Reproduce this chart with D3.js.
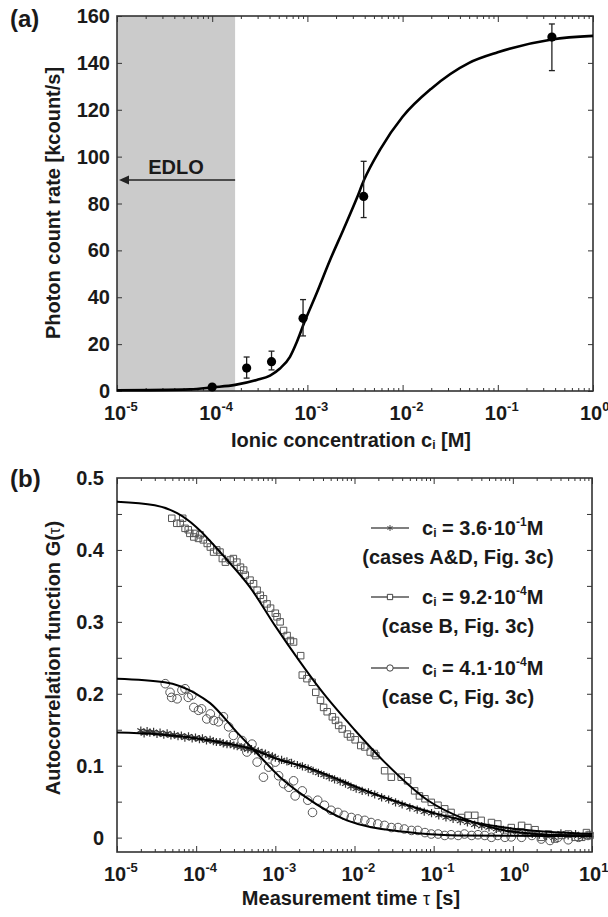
<!DOCTYPE html>
<html>
<head>
<meta charset="utf-8">
<script src="https://cdn.jsdelivr.net/npm/d3@7"></script>
<style>
body { margin: 0; background: #fff; }
text { font-family: "Liberation Sans", Arial, sans-serif; font-weight: bold; fill: #1a1a1a; }
</style>
</head>
<body>
<div id="canvas"></div>
<script>

// ---- panel (a): photon count rate vs ionic concentration ----
var concA = [1.0e-4, 2.3e-4, 4.2e-4, 9.0e-4, 3.9e-3, 0.37];
var rateA = [1.7, 9.8, 12.5, 31, 83, 151];
var errLoA = [null, 5.5, 9, 23.5, 74, 136.7];
var errHiA = [null, 14.5, 17, 39, 98, 156.6];

var fitConcA = [1e-5, 5.85e-5, 1.02e-4, 1.74e-4, 2.93e-4, 4.05e-4, 5.15e-4, 6.56e-4, 7.72e-4, 9.27e-4,
    1.25e-3, 1.73e-3, 2.38e-3, 3.3e-3, 3.93e-3, 5.8e-3, 1e-2, 2e-2, 5e-2, 0.1, 0.37, 1];
var fitRateA = [0.3, 0.7, 1.6, 2.6, 4.7, 6.6, 9.6, 14.6, 20.8, 29.2,
    41.7, 55.9, 68.7, 82.2, 90, 103, 117, 129, 140, 144.5, 150, 151.5];

var edloLimit = 1.74e-4;
var edloLevel = 90;
var yTicksA = [0, 20, 40, 60, 80, 100, 120, 140, 160];

// ---- panel (b): autocorrelation curves ----
// case A&D, ci = 3.6e-1 M (stars)
var tauAD = [2.0e-5, 2.2e-5, 2.4e-5, 2.6e-5, 2.9e-5, 3.2e-5, 3.5e-5, 3.9e-5, 4.3e-5, 4.8e-5, 5.3e-5, 5.9e-5,
    6.5e-5, 7.2e-5, 8.0e-5, 8.9e-5, 9.8e-5, 1.1e-4, 1.2e-4, 1.35e-4, 1.5e-4, 1.65e-4, 1.8e-4, 2.0e-4,
    2.2e-4, 2.45e-4, 2.7e-4, 3.0e-4, 3.3e-4, 3.7e-4, 4.1e-4, 4.5e-4, 5.0e-4, 5.5e-4, 6.1e-4, 6.8e-4,
    7.5e-4, 8.3e-4, 9.2e-4, 1.0e-3, 1.2e-3, 1.4e-3, 1.6e-3, 1.9e-3, 2.2e-3, 2.6e-3, 3.0e-3, 3.5e-3,
    4.1e-3, 4.8e-3, 5.6e-3, 6.6e-3, 7.7e-3, 9.0e-3, 1.05e-2, 1.25e-2, 1.5e-2, 1.8e-2, 2.2e-2, 2.7e-2,
    3.3e-2, 4.0e-2, 5.0e-2, 6.2e-2, 7.6e-2, 9.4e-2, 0.116, 0.143, 0.176, 0.217, 0.267, 0.329, 0.405,
    0.5, 0.62, 0.76, 0.94, 1.16, 1.43, 1.76, 2.17, 2.67, 3.29, 4.05, 5.0, 6.2, 7.6, 9.4];
var gAD = [0.149, 0.145, 0.148, 0.146, 0.147, 0.144, 0.146, 0.143, 0.145, 0.142, 0.143, 0.141,
    0.142, 0.139, 0.141, 0.138, 0.139, 0.137, 0.138, 0.135, 0.136, 0.134, 0.133, 0.133,
    0.131, 0.130, 0.130, 0.128, 0.127, 0.126, 0.125, 0.123, 0.123, 0.121, 0.120, 0.118,
    0.117, 0.114, 0.113, 0.111, 0.108, 0.106, 0.104, 0.101, 0.099, 0.096, 0.093, 0.090,
    0.087, 0.084, 0.081, 0.078, 0.075, 0.071, 0.068, 0.065, 0.063, 0.060, 0.056, 0.053,
    0.049, 0.046, 0.042, 0.039, 0.036, 0.034, 0.031, 0.028, 0.026, 0.023, 0.021, 0.018, 0.016,
    0.014, 0.012, 0.011, 0.009, 0.008, 0.006, 0.005, 0.004, 0.002, 0.000, 0.006, 0.003, 0.005, 0.001, 0.004];

// case B, ci = 9.2e-4 M (squares)
var tauB = [4.92e-5, 5.69e-5, 6.76e-5, 6.31e-5, 7.24e-5, 7.94e-5, 8.32e-5, 9.77e-5, 9.33e-5, 1.12e-4,
    1.07e-4, 1.23e-4, 1.38e-4, 1.51e-4, 1.82e-4, 1.66e-4, 2.0e-4, 2.14e-4, 2.34e-4, 2.69e-4, 2.95e-4,
    3.27e-4, 3.63e-4, 3.98e-4, 4.17e-4, 4.79e-4, 5.31e-4, 5.89e-4, 6.46e-4, 7.08e-4, 7.85e-4, 8.71e-4,
    1.0e-3, 1.05e-3, 1.15e-3, 1.27e-3, 1.41e-3, 1.55e-3, 1.70e-3, 2.09e-3, 2.19e-3, 2.51e-3, 2.92e-3,
    3.24e-3, 3.72e-3, 4.07e-3, 4.52e-3, 5.25e-3, 5.75e-3, 6.31e-3, 7.0e-3, 8.13e-3, 8.91e-3, 1.02e-2,
    1.2e-2, 1.35e-2, 1.58e-2, 1.78e-2, 1.86e-2, 2.4e-2, 2.92e-2, 3.89e-2, 4.68e-2, 5.75e-2, 6.61e-2,
    7.76e-2, 9.33e-2, 0.1135, 0.138, 0.166, 0.224, 0.272, 0.331, 0.398, 0.537, 0.646, 0.955, 1.29,
    1.55, 1.91, 2.29, 2.82, 3.39, 4.17, 5.01, 6.1, 7.41, 8.51, 9.44];
var gB = [0.444, 0.437, 0.444, 0.437, 0.430, 0.428, 0.423, 0.423, 0.418, 0.421,
    0.416, 0.414, 0.409, 0.404, 0.400, 0.397, 0.397, 0.388, 0.383, 0.386, 0.388,
    0.383, 0.376, 0.372, 0.365, 0.358, 0.353, 0.344, 0.337, 0.332, 0.325, 0.319,
    0.312, 0.307, 0.300, 0.288, 0.281, 0.274, 0.272, 0.253, 0.226, 0.221, 0.216,
    0.202, 0.191, 0.181, 0.175, 0.168, 0.163, 0.156, 0.151, 0.144, 0.140, 0.136,
    0.128, 0.126, 0.119, 0.117, 0.114, 0.093, 0.084, 0.084, 0.079, 0.065, 0.058,
    0.054, 0.049, 0.045, 0.040, 0.035, 0.028, 0.031, 0.031, 0.024, 0.021, 0.019, 0.014, 0.017,
    0.014, 0.011, 0.0004, 0.005, -0.002, 0.003, 0.005, 0.0004, 0.0004, 0.007, 0.003];

// case C, ci = 4.1e-4 M (circles)
var tauC = [4.07e-5, 4.68e-5, 4.9e-5, 5.75e-5, 6.61e-5, 7.24e-5, 7.94e-5, 8.81e-5, 9.33e-5, 1.07e-4,
    1.17e-4, 1.36e-4, 1.51e-4, 1.66e-4, 1.91e-4, 2.21e-4, 2.57e-4, 2.95e-4, 3.8e-4, 4.37e-4, 5.07e-4,
    5.89e-4, 7.08e-4, 8.22e-4, 1.0e-3, 1.1e-3, 1.27e-3, 1.48e-3, 1.7e-3, 1.78e-3, 2.19e-3, 2.57e-3,
    2.95e-3, 3.43e-3, 4.17e-3, 5.07e-3, 6.17e-3, 7.41e-3, 9.12e-3, 1.1e-2, 1.35e-2, 1.62e-2, 1.97e-2,
    2.4e-2, 2.92e-2, 3.55e-2, 4.27e-2, 5.25e-2, 6.31e-2, 7.76e-2, 9.33e-2, 0.114, 0.138, 0.166, 0.204,
    0.245, 0.302, 0.363, 0.442, 0.537, 0.646, 0.794, 0.955, 1.29, 1.74, 2.29, 2.95, 3.72, 5.01, 6.76, 8.91];
var gC = [0.214, 0.202, 0.195, 0.193, 0.205, 0.207, 0.195, 0.198, 0.181, 0.177,
    0.179, 0.165, 0.172, 0.163, 0.161, 0.168, 0.154, 0.142, 0.135, 0.119, 0.130,
    0.105, 0.084, 0.098, 0.105, 0.086, 0.075, 0.070, 0.079, 0.058, 0.065, 0.052,
    0.035, 0.052, 0.045, 0.038, 0.035, 0.031, 0.028, 0.026, 0.024, 0.021, 0.019,
    0.017, 0.014, 0.014, 0.012, 0.010, 0.010, 0.007, 0.005, 0.005, 0.003, 0.004, 0.003,
    0.005, 0.003, 0.004, 0.003, 0.0004, 0.003, 0.0004, 0.001, 0.0004, 0.003, -0.002, -0.004, 0.0004, -0.003, 0.0004, 0.003];

// fitted curves
var fitTauAD = [1e-5, 3e-5, 1.5e-4, 4.8e-4, 1.15e-3, 2.3e-3, 1.66e-2, 0.11, 0.79, 10];
var fitAD = [0.146, 0.144, 0.135, 0.124, 0.108, 0.099, 0.062, 0.033, 0.014, 0.005];
var fitTauB = [1e-5, 3e-5, 5.75e-5, 1e-4, 2.2e-4, 4.8e-4, 1e-3, 2e-3, 3.7e-3, 1e-2, 2.4e-2, 8.4e-2, 0.245, 0.79, 3, 10];
var fitB = [0.467, 0.462, 0.451, 0.432, 0.392, 0.348, 0.294, 0.246, 0.206, 0.150, 0.105, 0.052, 0.026, 0.010, 0.004, 0.003];
var fitTauC = [1e-5, 4e-5, 1e-4, 1.5e-4, 3.3e-4, 5.9e-4, 1.15e-3, 2.3e-3, 8e-3, 4.3e-2, 0.2, 10];
var fitC = [0.221, 0.216, 0.200, 0.187, 0.146, 0.117, 0.084, 0.058, 0.024, 0.008, 0.003, 0.002];

var yTicksB = [0, 0.1, 0.2, 0.3, 0.4, 0.5];
var yMinorB = [0, 0.05, 0.1, 0.15, 0.2, 0.25, 0.3, 0.35, 0.4, 0.45];

var legendConc = ["3.6", "9.2", "4.1"];
var legendExp = ["-1", "-4", "-4"];
var legendCase = ["(cases A&D, Fig. 3c)", "(case B, Fig. 3c)", "(case C, Fig. 3c)"];

var svg = d3.select("#canvas").append("svg")
    .attr("width", 608)
    .attr("height", 917);

// draws the boxed frame with inward ticks on all four sides
function frame(x, y, yMajor, yMinor, labelGap) {
    var x0 = x.range()[0], x1 = x.range()[1];
    var y0 = y.range()[0], y1 = y.range()[1];
    var all = x.ticks();
    var major = all.filter(function (d) { return Math.abs(Math.log10(d) - Math.round(Math.log10(d))) < 1e-6; });
    var minor = all.filter(function (d) { return major.indexOf(d) < 0; });
    var g = svg.append("g");
    var axes = [
        [d3.axisBottom(x).tickValues(minor).tickSizeInner(-3), "translate(0," + y0 + ")"],
        [d3.axisBottom(x).tickValues(major).tickSizeInner(-6), "translate(0," + y0 + ")"],
        [d3.axisTop(x).tickValues(minor).tickSizeInner(-3), "translate(0," + y1 + ")"],
        [d3.axisTop(x).tickValues(major).tickSizeInner(-6), "translate(0," + y1 + ")"],
        [d3.axisLeft(y).tickValues(yMinor).tickSizeInner(-5), "translate(" + x0 + ",0)"],
        [d3.axisRight(y).tickValues(yMinor).tickSizeInner(-5), "translate(" + x1 + ",0)"]
    ];
    axes.forEach(function (a) {
        var ax = g.append("g").attr("transform", a[1])
            .call(a[0].tickSizeOuter(0).tickFormat(""));
        ax.select(".domain").remove();
        ax.selectAll("line").attr("stroke", "#333").attr("stroke-width", 1);
    });
    g.append("rect")
        .attr("x", x0).attr("y", y1)
        .attr("width", x1 - x0).attr("height", y0 - y1)
        .attr("fill", "none").attr("stroke", "#333").attr("stroke-width", 1.6);

    // decade labels 10^n
    major.forEach(function (d) {
        var t = g.append("text")
            .attr("x", x(d) - 13)
            .attr("y", y0 + 29)
            .attr("font-size", 20);
        t.append("tspan").text("10");
        t.append("tspan").attr("dy", -9).attr("font-size", 13).text(String(Math.round(Math.log10(d))));
    });
    yMajor.forEach(function (d) {
        g.append("text")
            .attr("x", x0 - labelGap)
            .attr("y", y(d) + 7)
            .attr("text-anchor", "end")
            .attr("font-size", 20)
            .text(d);
    });
}

// ================= panel (a) =================
var xa = d3.scaleLog().domain([1e-5, 1]).range([117, 593]);
var ya = d3.scaleLinear().domain([0, 160]).range([391, 16]);

svg.append("rect")
    .attr("x", xa(1e-5))
    .attr("y", ya(160))
    .attr("width", xa(edloLimit) - xa(1e-5))
    .attr("height", ya(0) - ya(160))
    .attr("fill", "#cbcbcb");

frame(xa, ya, yTicksA, yTicksA, 7);

var lineA = d3.line()
    .x(function (d, i) { return xa(fitConcA[i]); })
    .y(function (d) { return ya(d); })
    .curve(d3.curveMonotoneX);
svg.append("path")
    .attr("d", lineA(fitRateA))
    .attr("fill", "none")
    .attr("stroke", "#000")
    .attr("stroke-width", 2.6)
    .attr("stroke-linejoin", "round");

// error bars
var eb = svg.append("g").attr("stroke", "#222").attr("stroke-width", 1.3);
rateA.forEach(function (v, i) {
    if (errLoA[i] === null) return;
    var cx = xa(concA[i]);
    eb.append("line").attr("x1", cx).attr("x2", cx).attr("y1", ya(errLoA[i])).attr("y2", ya(errHiA[i]));
    eb.append("line").attr("x1", cx - 3).attr("x2", cx + 3).attr("y1", ya(errLoA[i])).attr("y2", ya(errLoA[i]));
    eb.append("line").attr("x1", cx - 3).attr("x2", cx + 3).attr("y1", ya(errHiA[i])).attr("y2", ya(errHiA[i]));
});
svg.selectAll("circle.pa")
    .data(rateA).enter()
    .append("circle")
    .attr("class", "pa")
    .attr("r", 4.6)
    .attr("cx", function (d, i) { return xa(concA[i]); })
    .attr("cy", function (d) { return ya(d); })
    .attr("fill", "#000");

// EDLO arrow
svg.append("line")
    .attr("x1", xa(edloLimit)).attr("x2", xa(1e-5) + 8)
    .attr("y1", ya(edloLevel)).attr("y2", ya(edloLevel))
    .attr("stroke", "#222").attr("stroke-width", 1.6);
svg.append("path")
    .attr("d", "M" + (xa(1e-5) + 2) + "," + ya(edloLevel) + "l10,-4.5l0,9z")
    .attr("fill", "#222");
svg.append("text")
    .attr("x", (xa(1e-5) + xa(edloLimit)) / 2)
    .attr("y", ya(edloLevel) - 6)
    .attr("text-anchor", "middle")
    .attr("font-size", 20)
    .text("EDLO");

svg.append("text").attr("x", 10).attr("y", 27).attr("font-size", 24).text("(a)");

svg.append("text")
    .attr("transform", "translate(60,203) rotate(-90)")
    .attr("text-anchor", "middle")
    .attr("font-size", 20)
    .text("Photon count rate [kcount/s]");

var xla = svg.append("text")
    .attr("x", 351).attr("y", 447)
    .attr("text-anchor", "middle")
    .attr("font-size", 20);
xla.append("tspan").text("Ionic concentration c");
xla.append("tspan").attr("font-size", 12).attr("dy", 2).text("i");
xla.append("tspan").attr("dy", -2).text(" [M]");

// ================= panel (b) =================
var xb = d3.scaleLog().domain([1e-5, 10]).range([117, 592]);
var yb = d3.scaleLinear().domain([-0.02, 0.5]).range([852, 478]);

frame(xb, yb, yTicksB, yMinorB, 13);

var sym = {
    star: d3.symbol().type(d3.symbolAsterisk).size(46),
    square: d3.symbol().type(d3.symbolSquare).size(42),
    circle: d3.symbol().type(d3.symbolCircle).size(58)
};

function scatter(tau, g, shape, color, width) {
    svg.append("g").selectAll("path")
        .data(g).enter()
        .append("path")
        .attr("d", sym[shape])
        .attr("transform", function (d, i) { return "translate(" + xb(tau[i]) + "," + yb(d) + ")"; })
        .attr("fill", "none")
        .attr("stroke", color)
        .attr("stroke-width", width);
}
scatter(tauAD, gAD, "star", "#333", 1.2);
scatter(tauC, gC, "circle", "#555", 1);
scatter(tauB, gB, "square", "#555", 1);

function fit(tau, g) {
    var line = d3.line()
        .x(function (d, i) { return xb(tau[i]); })
        .y(function (d) { return yb(d); })
        .curve(d3.curveMonotoneX);
    svg.append("path")
        .attr("d", line(g))
        .attr("fill", "none")
        .attr("stroke", "#000")
        .attr("stroke-width", 2);
}
fit(fitTauAD, fitAD);
fit(fitTauB, fitB);
fit(fitTauC, fitC);

// legend
var legY = [528, 597, 668];
var legShape = ["star", "square", "circle"];
var legSym = {
    star: d3.symbol().type(d3.symbolAsterisk).size(24),
    square: d3.symbol().type(d3.symbolSquare).size(28),
    circle: d3.symbol().type(d3.symbolCircle).size(32)
};
legY.forEach(function (ly, i) {
    svg.append("line")
        .attr("x1", 371).attr("x2", 409).attr("y1", ly).attr("y2", ly)
        .attr("stroke", "#555").attr("stroke-width", 1.5);
    svg.append("path")
        .attr("d", legSym[legShape[i]])
        .attr("transform", "translate(390," + ly + ")")
        .attr("fill", "#fff").attr("stroke", "#444").attr("stroke-width", 1);
    var t = svg.append("text").attr("x", 422).attr("y", ly + 7).attr("font-size", 20);
    t.append("tspan").text("c");
    t.append("tspan").attr("font-size", 12).attr("dy", 2).text("i");
    t.append("tspan").attr("dy", -2).text(" = " + legendConc[i] + "\u00b710");
    t.append("tspan").attr("font-size", 12).attr("dy", -9).text(legendExp[i]);
    t.append("tspan").attr("dy", 9).text("M");
    svg.append("text")
        .attr("x", 458).attr("y", ly + 36)
        .attr("text-anchor", "middle")
        .attr("font-size", 20)
        .text(legendCase[i]);
});

svg.append("text").attr("x", 10).attr("y", 487).attr("font-size", 24).text("(b)");

var ylb = svg.append("text")
    .attr("transform", "translate(60,658) rotate(-90)")
    .attr("text-anchor", "middle")
    .attr("font-size", 20);
ylb.append("tspan").text("Autocorrelation function G(");
ylb.append("tspan").attr("font-weight", "normal").attr("font-size", 17).text("\u03c4");
ylb.append("tspan").text(")");

var xlb = svg.append("text")
    .attr("x", 351).attr("y", 905)
    .attr("text-anchor", "middle")
    .attr("font-size", 20);
xlb.append("tspan").text("Measurement time ");
xlb.append("tspan").attr("font-weight", "normal").attr("font-size", 18).text("\u03c4");
xlb.append("tspan").text(" [s]");

</script>
</body>
</html>
